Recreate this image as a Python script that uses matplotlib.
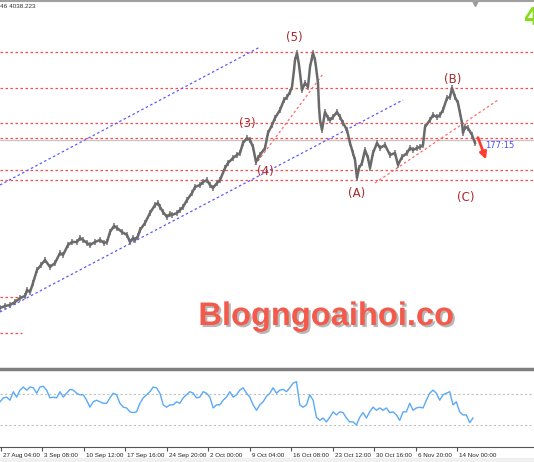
import numpy as np
import matplotlib.pyplot as plt
import matplotlib.patheffects as pe
from matplotlib.lines import Line2D
from matplotlib.patches import Rectangle
from matplotlib.transforms import ScaledTranslation

# price path (bar position, price level)
price_pos = [0, 5, 10, 15, 20, 25, 27, 30, 33, 37, 41, 45, 50, 55, 60, 63, 68, 72, 77, 80,
             83, 87, 90, 95, 100, 104, 107, 110, 114, 117, 122, 127, 130, 133, 135, 138, 140, 145, 150, 155,
             158, 160, 163, 167, 170, 172, 177, 180, 183, 187, 192, 195, 200, 203, 207, 210, 213, 217, 220, 225,
             228, 233, 237, 240, 243, 247, 250, 253, 256, 258, 260, 265, 268, 272, 275, 280, 284, 287, 290, 292,
             294, 295, 297, 299, 300, 302, 305, 308, 310, 312, 313, 315, 316, 318, 319, 320, 322, 325, 328, 330,
             333, 337, 340, 343, 347, 350, 353, 355, 357, 359, 362, 365, 368, 370, 373, 377, 380, 385, 390, 395,
             398, 402, 407, 410, 413, 417, 420, 423, 425, 430, 433, 437, 440, 443, 447, 450, 452, 455, 458, 460,
             462, 463, 465, 468, 472, 475]
price = [154, 156, 157, 160, 164, 166, 172, 170, 179, 192, 197, 202, 195, 199, 209, 207, 217, 220, 220, 224,
         222, 219, 217, 220, 222, 219, 220, 230, 236, 234, 230, 227, 220, 224, 222, 226, 232, 239, 249, 257,
         259, 255, 250, 245, 248, 247, 249, 252, 255, 262, 269, 275, 277, 280, 282, 277, 274, 279, 282, 294,
         299, 304, 307, 309, 319, 324, 322, 315, 300, 304, 307, 314, 329, 337, 344, 352, 362, 365, 370, 375,
         392, 402, 409, 397, 389, 372, 379, 375, 395, 404, 409, 402, 395, 379, 355, 342, 332, 350, 344, 342,
         345, 350, 345, 339, 332, 319, 309, 302, 284, 294, 299, 312, 304, 294, 309, 319, 314, 317, 307, 309,
         297, 305, 309, 314, 312, 314, 315, 317, 335, 342, 347, 345, 347, 352, 364, 365, 374, 365, 359, 349,
         339, 329, 335, 334, 327, 319]

# oscillator in the lower panel
rsi = [60, 65, 66, 62, 73, 66, 75, 79, 75, 79, 78, 71, 79, 80, 75, 65, 66, 65, 73, 66,
       71, 76, 75, 71, 69, 69, 62, 53, 60, 62, 60, 58, 58, 65, 71, 69, 58, 53, 52, 47,
       46, 47, 58, 65, 69, 73, 79, 78, 71, 56, 53, 56, 56, 60, 58, 65, 69, 73, 71, 65,
       66, 73, 71, 66, 52, 56, 56, 62, 66, 73, 66, 69, 75, 78, 71, 66, 56, 49, 56, 60,
       67,
       71, 78, 71, 75, 76, 73, 78, 84, 86, 56, 53, 56, 69, 62, 40, 36, 39, 34, 40, 47,
       43, 47, 46, 39, 34, 34, 30, 40, 46, 39, 47, 53, 49, 52, 49, 52, 46, 47, 43, 36,
       47, 47, 58, 49, 52, 53, 52, 62, 71, 75, 71, 62, 69, 71, 73, 56, 60, 47, 43, 43,
       33, 39]
rsi_levels = [70, 30]

# horizontal levels and trend lines
h_levels = [410, 374, 339, 324, 292, 282]
short_levels = [165, 129]
current_price = 322
blue_lines = [((0, 277), (260, 415)), ((0, 150), (403, 362))]
red_lines = [((255, 297), (323, 388)), ((375, 279), (498, 362))]

wave_labels = ["(5)", "(3)", "(4)", "(A)", "(B)", "(C)"]
wave_pos = [(294, 425), (247, 339), (265, 290), (357, 269), (453, 382), (466, 264)]

tick_labels = ["27 Aug 04:00", "3 Sep 08:00", "10 Sep 12:00", "17 Sep 16:00", "24 Sep 20:00",
               "2 Oct 00:00", "9 Oct 04:00", "16 Oct 08:00", "23 Oct 12:00", "30 Oct 16:00",
               "6 Nov 20:00", "14 Nov 00:00"]

W, H = 534, 462
small_font = ["Liberation Sans", "DejaVu Sans"]


def fy(y):
    return 1 - y / H


fig = plt.figure(figsize=(W / 100, H / 100), dpi=100)
fig.patch.set_facecolor("white")

# main price panel
ax = fig.add_axes([0, fy(368), 1, (368 - 3) / H])
ax.set_xlim(0, W)
ax.set_ylim(94, 459)
ax.axis("off")

dot = (0, (2, 2))
for lv in h_levels:
    ax.axhline(lv, color="#ff4a4a", lw=0.9, ls=dot)
for lv in short_levels:
    ax.plot([0, 22], [lv, lv], color="#ff4a4a", lw=0.9, ls=dot)
ax.axhline(current_price, color="#c8c8c8", lw=1)
for (x0, y0), (x1, y1) in blue_lines:
    ax.plot([x0, x1], [y0, y1], color="#5a5aff", lw=0.9, ls=dot)
for (x0, y0), (x1, y1) in red_lines:
    ax.plot([x0, x1], [y0, y1], color="#ff6a6a", lw=0.9, ls=dot)

p = np.array(price)
ax.vlines(price_pos, p - 3, p + 3, color="#777777", lw=1.1)
ax.plot(price_pos, price, color="#6a6a6a", lw=1.8)

for s, (x, y) in zip(wave_labels, wave_pos):
    ax.text(x, y, s, ha="center", va="center", color="#a8282c", fontsize=8.5)

ax.annotate("", xy=(487, 300), xytext=(477, 327),
            arrowprops=dict(arrowstyle="-|>", color="#ff3b30", lw=2, mutation_scale=10))
ax.text(485, 317, "177:15", color="#4a4aff", fontsize=6, va="center")
ax.plot([475], [459], marker="v", color="#9a9a9a", ms=4, clip_on=False)

# lower oscillator panel
sub = fig.add_axes([0, fy(447), 1, (447 - 370) / H])
sub.set_xlim(0, W)
sub.set_ylim(1.6, 101)
for lv in rsi_levels:
    sub.axhline(lv, color="#c0c0c0", lw=0.8, ls=(0, (2, 2)))
sub.plot(np.linspace(0, 473, len(rsi)), rsi, color="#5aaaf8", lw=1)
for side in ["left", "right", "top"]:
    sub.spines[side].set_visible(False)
sub.spines["bottom"].set_color("#555555")
sub.spines["bottom"].set_linewidth(0.8)
sub.set_yticks([])
sub.set_xticks([1 + 41.45 * i for i in range(len(tick_labels))])
sub.set_xticklabels(tick_labels, ha="left", family=small_font, fontsize=4.5, color="#222222")
sub.tick_params(axis="x", direction="out", length=3, pad=1.5, color="#555555")
for lab in sub.get_xticklabels():
    lab.set_transform(lab.get_transform() + ScaledTranslation(2 / 100, 0, fig.dpi_scale_trans))

# frame lines and header text
fig.add_artist(Line2D([0, 1], [fy(369), fy(369)], color="#7f7f7f", lw=2.5))
fig.add_artist(Line2D([0, 1], [fy(1), fy(1)], color="#a0a0a0", lw=1.5))
fig.add_artist(Rectangle((0, 0), 1, fy(458), color="#f0f0f0", zorder=-1))
fig.text(0, fy(7), "46 4038.223", va="center", fontsize=4.6, color="#333333", family=small_font)
fig.text(524 / W, fy(25), "4", color="#86dc18", fontsize=17, fontweight="bold", va="baseline")

wm = fig.text(326 / W, fy(325), "Blogngoaihoi.co", ha="center", va="baseline",
              color="#f45a4c", fontsize=23.5, fontweight="bold", family="Liberation Sans")
wm.set_path_effects([pe.withSimplePatchShadow(offset=(1.5, -1.5), shadow_rgbFace="#888888", alpha=0.6)])

fig.savefig("out.png", dpi=100)
